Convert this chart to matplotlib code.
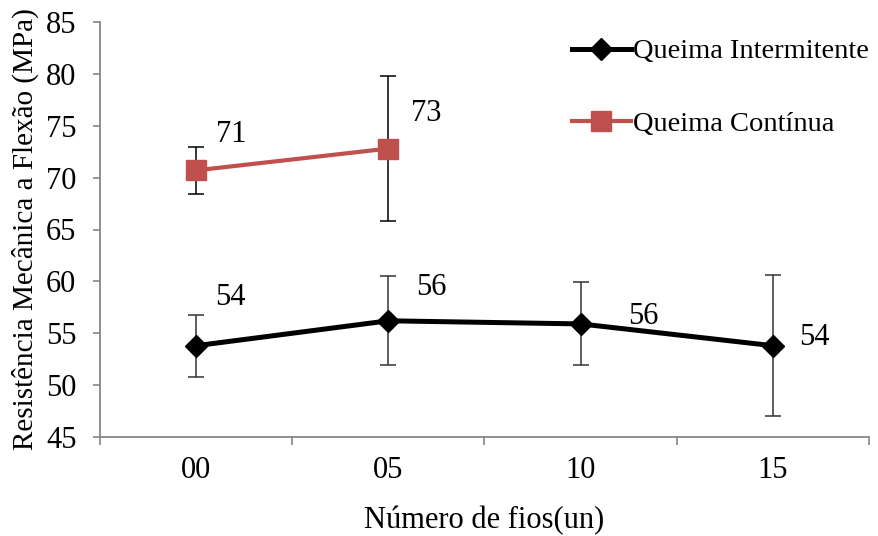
import matplotlib
matplotlib.use("Agg")
import matplotlib.pyplot as plt
from matplotlib.ticker import FixedLocator, NullFormatter

plt.rcParams['font.family'] = ['Liberation Serif', 'DejaVu Serif']

categories = ["00", "05", "10", "15"]
intermitente = [53.8, 56.2, 55.9, 53.8]
intermitente_err = [3.0, 4.3, 4.0, 6.8]
intermitente_labels = ["54", "56", "56", "54"]
continua = [70.7, 72.8]
continua_err = [2.3, 7.0]
continua_labels = ["71", "73"]

FS = 22
LEG_FS = 20.5
GRAY = "#868686"
RED = "#C0504D"

fig = plt.figure(figsize=(8.79, 5.36), dpi=100)
ax = fig.add_axes([100 / 879, 1 - 437 / 536, 769 / 879, 415 / 536])

x_int = list(range(len(intermitente)))
x_con = list(range(len(continua)))

ax.errorbar(x_int, intermitente, yerr=intermitente_err, fmt="none",
            ecolor="#333333", elinewidth=1.1, capsize=6, capthick=1.1, zorder=2)
ax.plot(x_int, intermitente, color="black", lw=3.6, marker="D", ms=11,
        label="Queima Intermitente", zorder=3)

ax.errorbar(x_con, continua, yerr=continua_err, fmt="none",
            ecolor="black", elinewidth=1.1, capsize=6, capthick=1.1, zorder=2)
ax.plot(x_con, continua, color=RED, lw=3.0, marker="s", ms=15,
        label="Queima Contínua", zorder=3)

# value labels next to each point
int_offsets = [(25, 35), (31, 24), (45, 5), (30, 6)]
for xi, yi, lab, off in zip(x_int, intermitente, intermitente_labels, int_offsets):
    ax.annotate(lab, (xi, yi), xytext=off, textcoords="offset points",
                ha="center", va="center", fontsize=FS)
con_offsets = [(25, 26), (27, 25)]
for xi, yi, lab, off in zip(x_con, continua, continua_labels, con_offsets):
    ax.annotate(lab, (xi, yi), xytext=off, textcoords="offset points",
                ha="center", va="center", fontsize=FS)

ax.set_xlim(-0.5, len(categories) - 0.5)
ax.set_ylim(45, 85)
ax.set_yticks(range(45, 86, 5))
ax.set_xticks(x_int)
ax.set_xticklabels(categories, fontsize=FS)
ax.xaxis.set_minor_locator(FixedLocator([i - 0.5 for i in range(len(categories) + 1)]))
ax.xaxis.set_minor_formatter(NullFormatter())
ax.tick_params(axis="x", which="major", length=0, pad=14)
ax.tick_params(axis="x", which="minor", length=6, width=1.2, color=GRAY)
ax.tick_params(axis="y", length=5, width=1.2, color=GRAY, labelsize=FS, pad=12)

for side in ("top", "right"):
    ax.spines[side].set_visible(False)
for side in ("left", "bottom"):
    ax.spines[side].set_color(GRAY)
    ax.spines[side].set_linewidth(1.3)

ax.set_xlabel("Número de fios(un)", fontsize=FS, labelpad=15)
ax.set_ylabel("Resistência Mecânica a Flexão (MPa)", fontsize=21, labelpad=5)

ax.legend(loc="upper left", bbox_to_anchor=(563 / 879, 1 - 30 / 536),
          bbox_transform=fig.transFigure, frameon=False, fontsize=LEG_FS,
          handlelength=2.1, handletextpad=0.05, labelspacing=1.65,
          borderaxespad=0, borderpad=0.3)

fig.savefig("out.png", dpi=100)
